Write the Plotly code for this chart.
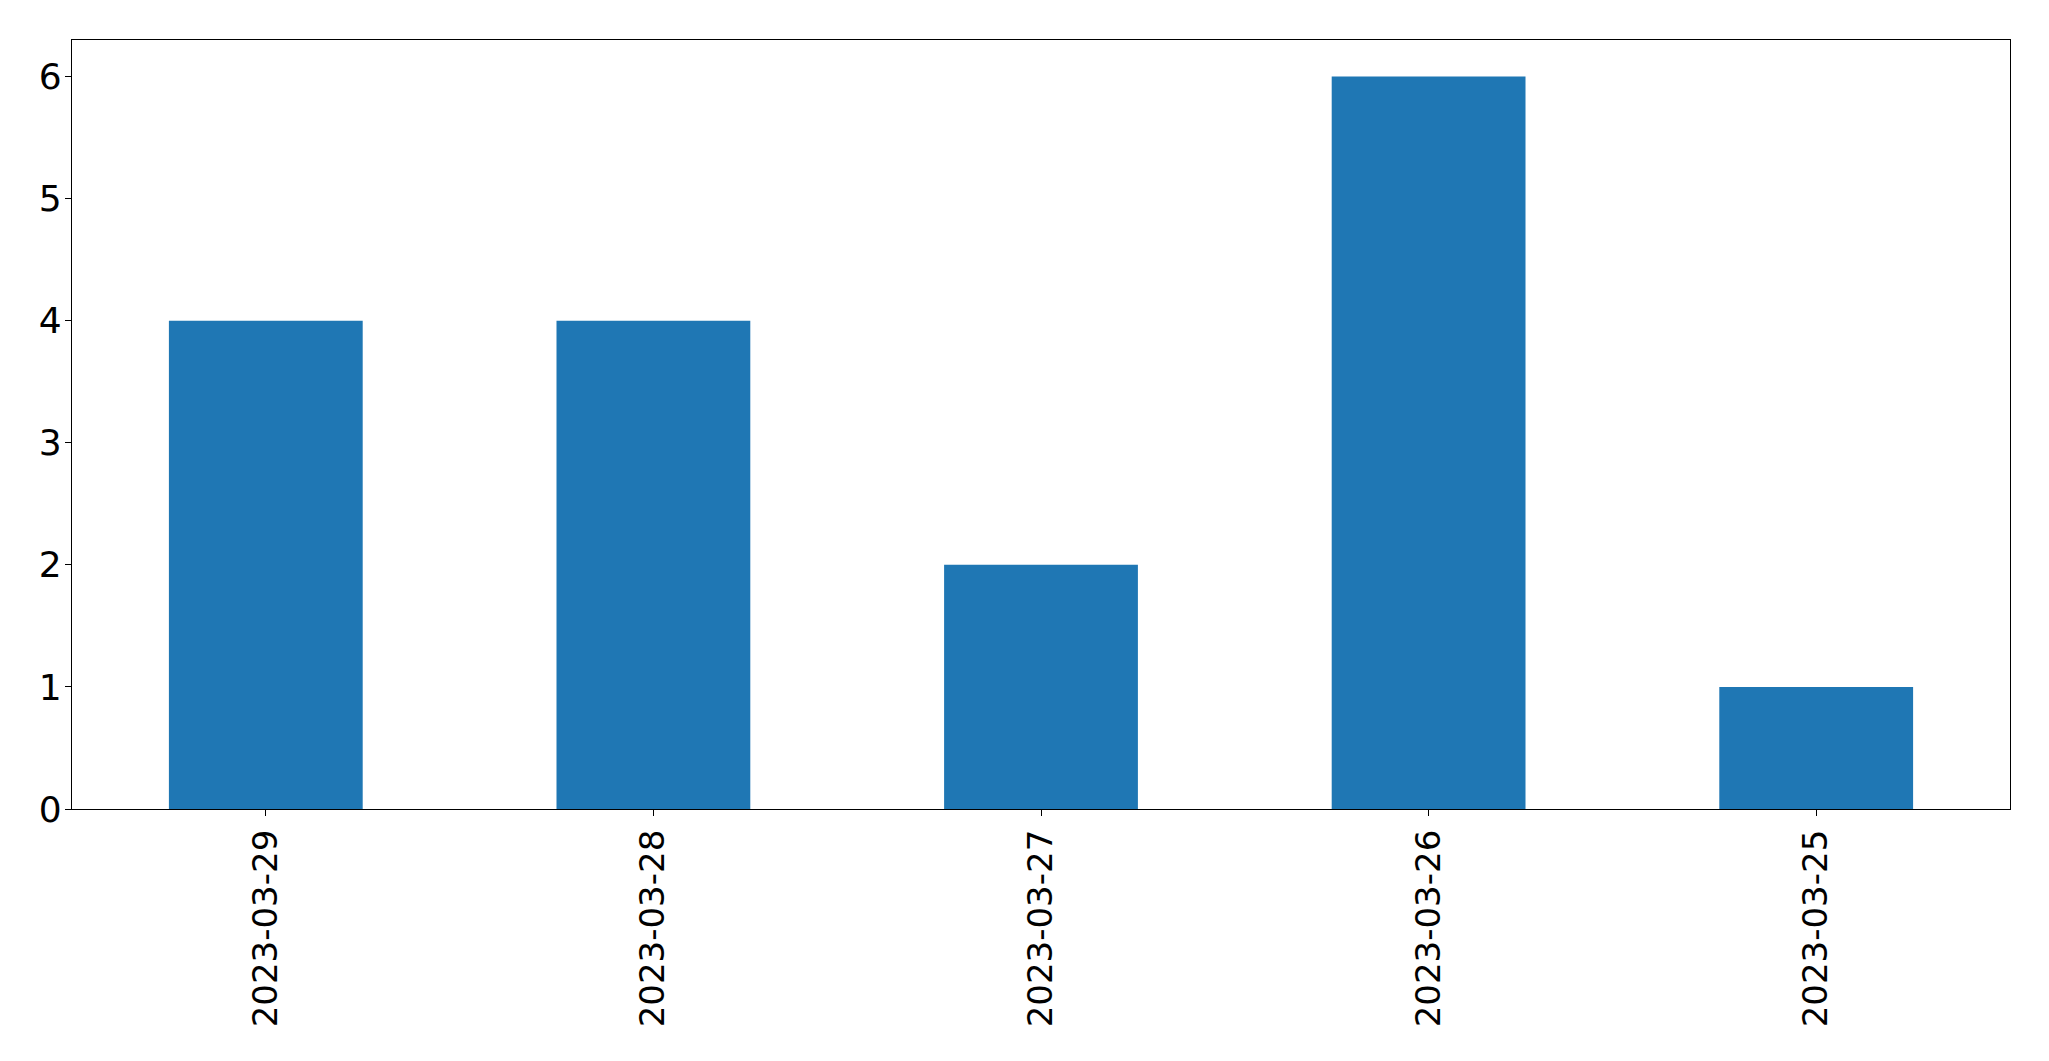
import plotly.graph_objects as go

dates = ["2023-03-29", "2023-03-28", "2023-03-27", "2023-03-26", "2023-03-25"]
counts = [4, 4, 2, 6, 1]
y_ticks = [0, 1, 2, 3, 4, 5, 6]

fig = go.Figure(go.Bar(x=dates, y=counts, marker=dict(color="#1f77b4", line=dict(width=0))))

xfont = dict(family="DejaVu Sans", size=34, color="black")
yfont = dict(family="DejaVu Sans", size=36, color="black")
fig.update_layout(
    width=2041, height=1053,
    margin=dict(l=64, r=39, t=32, b=252),
    paper_bgcolor="white", plot_bgcolor="white",
    bargap=0.5, showlegend=False, font=yfont,
)
fig.update_xaxes(
    type="category", range=[-0.5, len(dates) - 0.5],
    showline=True, linecolor="black", linewidth=1.3, mirror=True,
    ticks="outside", ticklen=6, tickwidth=1.3, tickcolor="black",
    tickangle=-90, showgrid=False, tickfont=xfont, ticklabelstandoff=0,
)
fig.update_yaxes(
    range=[0, 6.3], tickvals=y_ticks,
    showline=True, linecolor="black", linewidth=1.3, mirror=True,
    ticks="outside", ticklen=6, tickwidth=1.3, tickcolor="black",
    showgrid=False, zeroline=False, tickfont=yfont, ticklabelstandoff=-4,
)
fig.write_html("out.html")
